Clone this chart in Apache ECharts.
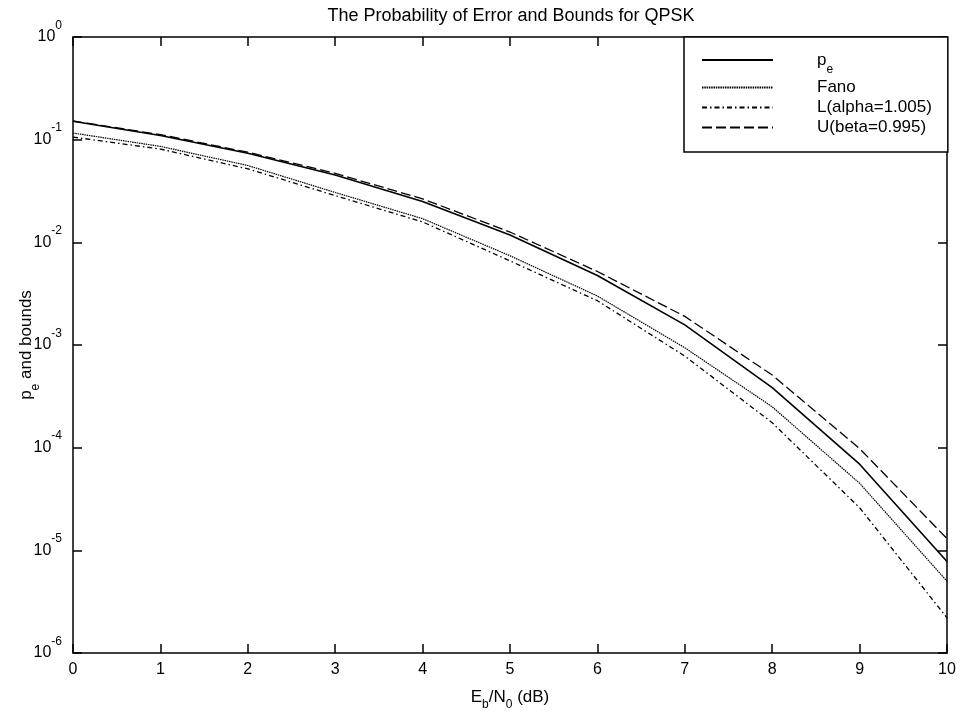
<!DOCTYPE html>
<html>
<head>
<meta charset="utf-8">
<title>QPSK error probability and bounds</title>
<script src="https://cdn.jsdelivr.net/npm/echarts@6/dist/echarts.min.js"></script>
<style>
  html, body { margin: 0; padding: 0; background: #fff; }
  #chart { width: 962px; height: 717px; }
</style>
</head>
<body>
<div id="chart"></div>
<script>
// Eb/N0 in dB
const ebn0 = [0, 1, 2, 3, 4, 5, 6, 7, 8, 9, 10];

// Symbol error probability and its bounds
const pe    = [0.151, 0.110, 0.0736, 0.0452, 0.0250, 0.0118, 0.00475, 0.00157, 3.85e-4, 6.9e-5, 7.8e-6];
const fano  = [0.116, 0.086, 0.0560, 0.0306, 0.0170, 0.0074, 0.00300, 9.4e-4, 2.5e-4, 4.5e-5, 5.0e-6];
const lower = [0.106, 0.081, 0.0520, 0.0285, 0.0158, 0.0066, 0.00270, 7.8e-4, 1.75e-4, 2.6e-5, 2.2e-6];
const upper = [0.152, 0.112, 0.0755, 0.0470, 0.0265, 0.0126, 0.00520, 1.9e-3, 5.1e-4, 9.8e-5, 1.3e-5];

const seriesNames = ['pe', 'Fano', 'L(alpha=1.005)', 'U(beta=0.995)'];
const xTicks = [0, 10, 1];          // min, max, step
const yDecades = [-6, 0];           // log10 range

const FONT = 'Liberation Sans, Arial, Helvetica, sans-serif';

const pairs = arr => ebn0.map((x, i) => [x, arr[i]]);

// "10" with a raised exponent
const supRich = {
  b:   { fontSize: 16, lineHeight: 18, fontFamily: FONT, color: '#000', verticalAlign: 'middle' },
  sup: { fontSize: 12, lineHeight: 12, fontFamily: FONT, color: '#000', padding: [0, 0, 23, 0], verticalAlign: 'middle' }
};
// subscripts for p_e
const subRichP = {
  b:   { fontSize: 17, lineHeight: 20, fontFamily: FONT, color: '#000', verticalAlign: 'middle' },
  sub: { fontSize: 12, lineHeight: 12, fontFamily: FONT, color: '#000', padding: [20, 0, 0, 0], verticalAlign: 'middle' }
};
// subscripts for E_b / N_0
const subRichE = {
  b:   { fontSize: 17, lineHeight: 18, fontFamily: FONT, color: '#000', verticalAlign: 'middle' },
  sub: { fontSize: 12, lineHeight: 12, fontFamily: FONT, color: '#000', padding: [16, 0, 0, 0], verticalAlign: 'middle' }
};

const frameLine = { show: true, onZero: false, lineStyle: { color: '#000', width: 1.5 } };
const innerTick = { show: true, inside: true, length: 9, lineStyle: { color: '#000', width: 1.5 } };

const chart = echarts.init(document.getElementById('chart'), null, { renderer: 'canvas' });

chart.setOption({
  backgroundColor: '#fff',
  animation: false,
  title: {
    text: 'The Probability of Error and Bounds for QPSK',
    left: 511,
    textAlign: 'center',
    top: 7,
    padding: 0,
    textStyle: { fontFamily: FONT, fontSize: 18, fontWeight: 'normal', color: '#000' }
  },
  grid: { left: 73, right: 15, top: 37, bottom: 64, containLabel: false, outerBoundsMode: 'none' },
  legend: {
    orient: 'vertical',
    left: 684,
    top: 37,
    data: seriesNames,
    backgroundColor: '#fff',
    borderColor: '#000',
    borderWidth: 1.5,
    padding: [7, 16, 16, 17],
    itemWidth: 71,
    itemHeight: 14,
    itemGap: 3,
    selectedMode: false,
    itemStyle: { opacity: 0, borderWidth: 0 },
    formatter: name => name === 'pe' ? '{b|p}{sub|e}' : '{b|' + name + '}',
    textStyle: {
      fontFamily: FONT, fontSize: 17, color: '#000',
      padding: [0, 0, 0, 39],
      rich: subRichP
    }
  },
  xAxis: [
    {
      type: 'value', position: 'bottom',
      min: xTicks[0], max: xTicks[1], interval: xTicks[2],
      axisLine: frameLine, axisTick: innerTick,
      splitLine: { show: false },
      axisLabel: { margin: 9, fontFamily: FONT, fontSize: 16, color: '#000' },
      name: '{b|E}{sub|b}{b|/N}{sub|0}{b| (dB)}',
      nameLocation: 'middle',
      nameGap: 35,
      nameMoveOverlap: false,
      nameTextStyle: { rich: subRichE }
    },
    {
      type: 'value', position: 'top',
      min: xTicks[0], max: xTicks[1], interval: xTicks[2],
      axisLine: frameLine, axisTick: innerTick,
      splitLine: { show: false },
      axisLabel: { show: false }
    }
  ],
  yAxis: [
    {
      type: 'log', logBase: 10, position: 'left',
      min: Math.pow(10, yDecades[0]), max: Math.pow(10, yDecades[1]),
      splitNumber: 6,
      axisLine: frameLine, axisTick: innerTick,
      minorTick: { show: false },
      splitLine: { show: false },
      axisLabel: {
        margin: 11,
        formatter: v => '{b|10}{sup|' + Math.round(Math.log10(v)) + '}',
        rich: supRich
      },
      name: '{b|p}{sub|e}{b| and bounds}',
      nameLocation: 'middle',
      nameGap: 37,
      nameMoveOverlap: false,
      nameTextStyle: { rich: subRichP }
    },
    {
      type: 'log', logBase: 10, position: 'right',
      min: Math.pow(10, yDecades[0]), max: Math.pow(10, yDecades[1]),
      splitNumber: 6,
      axisLine: frameLine, axisTick: innerTick,
      minorTick: { show: false },
      splitLine: { show: false },
      axisLabel: { show: false }
    }
  ],
  series: [
    {
      name: seriesNames[0], type: 'line', symbol: 'none', data: pairs(pe),
      lineStyle: { color: '#000', width: 1.6, type: 'solid' }, itemStyle: { color: '#000' }
    },
    {
      name: seriesNames[1], type: 'line', symbol: 'none', data: pairs(fano),
      lineStyle: { color: '#000', width: 1.2, type: [1.5, 0.8] }, itemStyle: { color: '#000' }
    },
    {
      name: seriesNames[2], type: 'line', symbol: 'none', data: pairs(lower),
      lineStyle: { color: '#000', width: 1.3, type: [5, 3, 1.5, 3] }, itemStyle: { color: '#000' }
    },
    {
      name: seriesNames[3], type: 'line', symbol: 'none', data: pairs(upper),
      lineStyle: { color: '#000', width: 1.3, type: [10, 4] }, itemStyle: { color: '#000' }
    }
  ]
});
</script>
</body>
</html>
